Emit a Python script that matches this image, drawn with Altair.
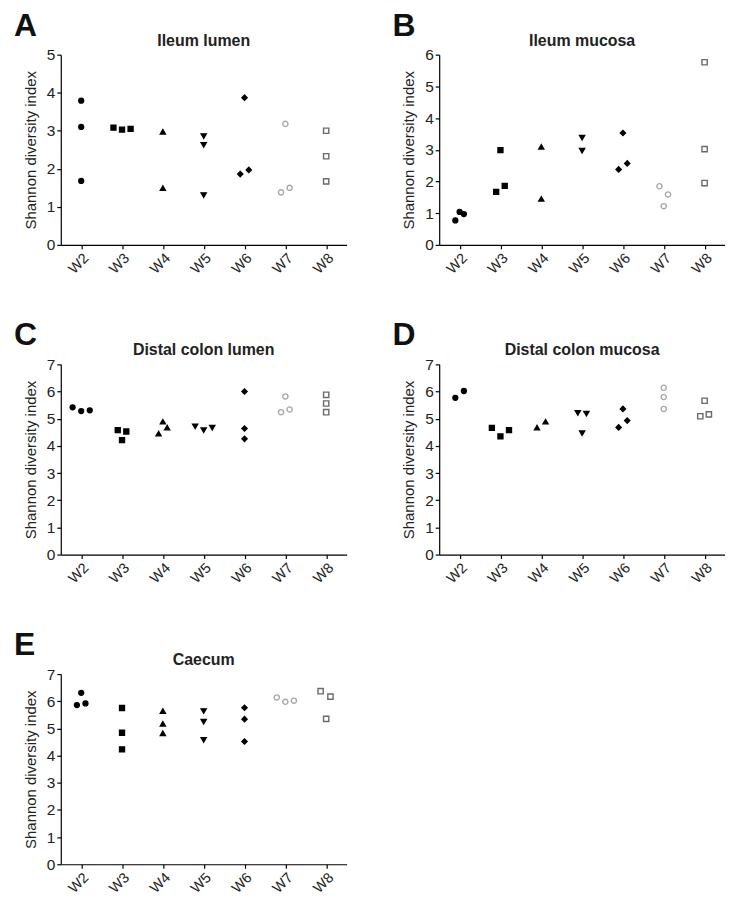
import altair as alt
import pandas as pd

WEEKS = ["W2", "W3", "W4", "W5", "W6", "W7", "W8"]
SHAPES = ["circle", "square", "triangle-up", "triangle-down", "diamond", "circle", "square"]
FILLS = ["black", "black", "black", "black", "black", "white", "white"]
STROKES = ["black", "black", "black", "black", "black", "#a8a8a8", "#6a6a6a"]
SIZES = [24, 28, 24, 24, 18, 24, 28]

# Panel A: Ileum lumen
A_week = ["W2"]*3 + ["W3"]*3 + ["W4"]*2 + ["W5"]*3 + ["W6"]*3 + ["W7"]*3 + ["W8"]*3
A_value = [3.79, 3.10, 1.68, 3.08, 3.03, 3.05, 2.97, 1.49, 2.86, 2.63, 1.31,
           3.87, 1.86, 1.97, 3.18, 1.38, 1.50, 3.00, 2.33, 1.67]
A_jit = [0, 0, 0, -2, 0, 2, 0, 0, 0, 0, 0, 0, -1, 1, 0, -1, 1, 0, 0, 0]

# Panel B: Ileum mucosa
B_week = ["W2"]*3 + ["W3"]*3 + ["W4"]*2 + ["W5"]*2 + ["W6"]*3 + ["W7"]*3 + ["W8"]*3
B_value = [0.77, 1.04, 0.97, 1.67, 2.99, 1.86, 3.09, 1.45, 3.38, 2.97,
           3.53, 2.38, 2.57, 1.85, 1.59, 1.22, 5.76, 3.02, 1.95]
B_jit = [-1, 0, 1, -1, 0, 1, 0, 0, 0, 0, 0, -1, 1, -1, 1, 0, 0, 0, 0]

# Panel C: Distal colon lumen
C_week = ["W2"]*3 + ["W3"]*3 + ["W4"]*3 + ["W5"]*3 + ["W6"]*3 + ["W7"]*3 + ["W8"]*3
C_value = [5.42, 5.28, 5.31, 4.58, 4.21, 4.53, 4.45, 4.89, 4.67, 4.72, 4.58, 4.67,
           6.00, 4.64, 4.26, 5.82, 5.24, 5.34, 5.88, 5.56, 5.24]
C_jit = [-2, 0, 2, -1, 0, 1, -1, 0, 1, -2, 0, 2, 0, 0, 0, 0, -1, 1, 0, 0, 0]

# Panel D: Distal colon mucosa
D_week = ["W2"]*2 + ["W3"]*3 + ["W4"]*2 + ["W5"]*3 + ["W6"]*3 + ["W7"]*3 + ["W8"]*3
D_value = [5.77, 6.02, 4.66, 4.35, 4.58, 4.67, 4.89, 5.21, 5.19, 4.47,
           4.68, 5.36, 4.93, 6.14, 5.80, 5.36, 5.66, 5.09, 5.16]
D_jit = [-1, 1, -2, 0, 2, -1, 1, -1, 1, 0, -1, 0, 1, 0, 0, 0, 0, -1, 1]

# Panel E: Caecum
E_week = ["W2"]*3 + ["W3"]*3 + ["W4"]*3 + ["W5"]*3 + ["W6"]*3 + ["W7"]*3 + ["W8"]*3
E_value = [5.86, 6.31, 5.92, 5.75, 4.84, 4.23, 5.64, 5.17, 4.82, 5.64, 5.25, 4.58,
           5.76, 5.34, 4.52, 6.14, 5.98, 6.02, 6.37, 6.17, 5.35]
E_jit = [-1, 0, 1, 0, 0, 0, 0, 0, 0, 0, 0, 0, 0, 0, 0, -2, 0, 2, -1.3, 1, 0]

FONT = "Liberation Sans"
W, H = 287, 191


def panel(letter, title, weeks, values, jit, ymax):
    df = pd.DataFrame({"week": weeks, "value": values, "jit": jit})
    pts = alt.Chart(df).mark_point(filled=True, opacity=1, strokeWidth=1.4).encode(
        x=alt.X("week:N", sort=WEEKS,
                scale=alt.Scale(domain=WEEKS, type="point", padding=0.5),
                axis=alt.Axis(title=None, labelAngle=-45)),
        xOffset=alt.XOffset("jit:Q", scale=alt.Scale(domain=[-2, 2], range=[-8.6, 8.6])),
        y=alt.Y("value:Q", scale=alt.Scale(domain=[0, ymax], nice=False),
                axis=alt.Axis(values=list(range(ymax + 1)), title="Shannon diversity index")),
        shape=alt.Shape("week:N", scale=alt.Scale(domain=WEEKS, range=SHAPES), legend=None),
        fill=alt.Fill("week:N", scale=alt.Scale(domain=WEEKS, range=FILLS), legend=None),
        stroke=alt.Stroke("week:N", scale=alt.Scale(domain=WEEKS, range=STROKES), legend=None),
        size=alt.Size("week:N", scale=alt.Scale(domain=WEEKS, range=SIZES), legend=None),
    )
    lab = alt.Chart(pd.DataFrame({"t": [letter]})).mark_text(
        fontSize=32, fontWeight="bold", font=FONT, align="left", baseline="top", color="#111"
    ).encode(x=alt.value(-47), y=alt.value(-44), text="t:N")
    ttl = alt.Chart(pd.DataFrame({"t": [title]})).mark_text(
        fontSize=16, fontWeight="bold", font=FONT, align="center", baseline="alphabetic", color="#222"
    ).encode(x=alt.value(W / 2), y=alt.value(-9), text="t:N")
    return alt.layer(pts, lab, ttl).properties(width=W, height=H)


pA = panel("A", "Ileum lumen", A_week, A_value, A_jit, 5)
pB = panel("B", "Ileum mucosa", B_week, B_value, B_jit, 6)
pC = panel("C", "Distal colon lumen", C_week, C_value, C_jit, 7)
pD = panel("D", "Distal colon mucosa", D_week, D_value, D_jit, 7)
pE = panel("E", "Caecum", E_week, E_value, E_jit, 7)

chart = alt.vconcat(
    alt.hconcat(pA, pB, spacing=46),
    alt.hconcat(pC, pD, spacing=46),
    alt.hconcat(pE, spacing=46),
    spacing=44,
).properties(
    padding={"left": 6, "top": 0, "right": 0, "bottom": 0}
).configure_view(stroke=None).configure_axis(
    grid=False, domainColor="black", tickColor="black", labelColor="#222",
    titleColor="#222", labelFont=FONT, titleFont=FONT, labelFontSize=15.5,
    titleFontSize=15, titleFontWeight="normal", tickSize=4, labelPadding=2,
    titlePadding=8, domainWidth=1.2, tickWidth=1.2,
).configure_axisX(labelFontSize=14.5)

chart.save("out.html", embed_options={"renderer": "svg", "actions": False})
